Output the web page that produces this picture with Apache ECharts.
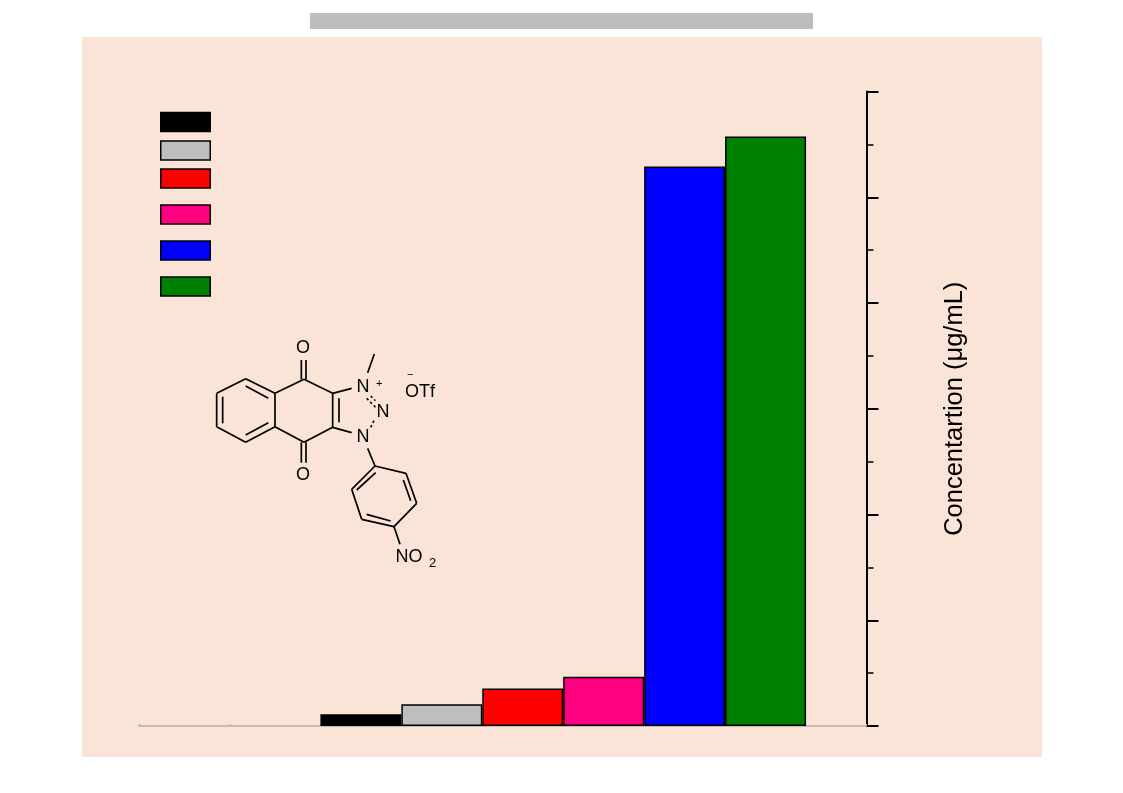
<!DOCTYPE html>
<html><head><meta charset="utf-8">
<style>html,body{margin:0;padding:0;background:#fff}#c{width:1123px;height:793px}</style>
<script src="https://cdn.jsdelivr.net/npm/echarts@6/dist/echarts.min.js"></script>
</head><body><div id="c"></div>
<script>
const barPositions = [2.44, 3.33, 4.22, 5.11, 6.0, 6.89];
const barValues = [1.1, 2.05, 3.55, 4.65, 52.9, 55.75];
const barColors = ['#000000', '#bebebe', '#ff0000', '#ff0080', '#0000ff', '#008000'];
const legendTops = [112.5, 141, 169, 205, 241, 277];
const yAxisName = 'Concentartion (\u03bcg/mL)';

// Structure drawing, coordinates in a 3x local space
const bonds = [
 [50,190,137,146],[137,146,225,190],[225,190,225,290],[225,290,137,337],[137,337,50,290],[50,290,50,190],
 [68,200,68,280],[137,168,205,205],[137,315,205,278],
 [225,190,312,148],[312,148,398,190],[398,190,398,292],[398,292,312,337],[312,337,225,290],[417,205,417,277],
 [304,90,304,148],[318,90,318,148],[304,337,304,398],[318,337,318,398],
 [398,190,455,175],[398,292,455,308],[503,128,523,72],[503,355,525,408],
 [525,408,618,430],[618,430,650,520],[650,520,582,590],[582,590,485,568],[485,568,455,478],[455,478,525,408],
 [610,450,632,512],[572,573,500,553],[470,480,527,428],[582,590,600,643]
];
const dashedBonds = [[500,205,527,232],[512,198,526,212],[522,272,512,292]];
const atoms = [['O',309,55],['O',309,435],['N',489,170],['N',549,245],['N',489,322],['+',538,163],['\u2212',631,135],['OTf',660,187],['NO',627,682]];
const smallAtoms = [['2',698,700]];

const P = (x, y) => [200 + x / 3, 330 + y / 3];
const graphics = [
 {type:'rect', z:-10, silent:true, shape:{x:82,y:37,width:960,height:720}, style:{fill:'#fae4d7'}},
 {type:'rect', silent:true, shape:{x:310,y:13,width:503,height:16}, style:{fill:'#bdbdbd'}}
];
legendTops.forEach((t, i) => graphics.push({type:'rect', z:5, shape:{x:160.75,y:t,width:49.5,height:19}, style:{fill:barColors[i], stroke:'#000', lineWidth:1.5}}));
bonds.forEach(b => { const a = P(b[0], b[1]), c = P(b[2], b[3]);
 graphics.push({type:'line', z:5, shape:{x1:a[0],y1:a[1],x2:c[0],y2:c[1]}, style:{stroke:'#000', lineWidth:1.7}}); });
dashedBonds.forEach(b => { const a = P(b[0], b[1]), c = P(b[2], b[3]);
 graphics.push({type:'line', z:5, shape:{x1:a[0],y1:a[1],x2:c[0],y2:c[1]}, style:{stroke:'#000', lineWidth:1.5, lineDash:[2.5,2.5]}}); });
atoms.forEach(t => { const p = P(t[1], t[2]); const sm = t[0] === '+' || t[0] === '\u2212';
 graphics.push({type:'text', z:6, x:p[0], y:p[1], style:{text:t[0], fill:'#000', font:(sm?'11px':'18px')+' "Liberation Sans"', align:'center', verticalAlign:'middle'}}); });
smallAtoms.forEach(t => { const p = P(t[1], t[2]);
 graphics.push({type:'text', z:6, x:p[0], y:p[1], style:{text:t[0], fill:'#000', font:'13px "Liberation Sans"', align:'center', verticalAlign:'middle'}}); });

const chart = echarts.init(document.getElementById('c'), null, {renderer:'canvas', width:1123, height:793});
chart.setOption({
 animation:false,
 backgroundColor:'#ffffff',
 graphic:graphics,
 grid:{left:139, right:256.5, top:91.5, bottom:67, containLabel:false},
 xAxis:{type:'value', min:0, max:8, interval:1,
  axisLine:{show:true, onZero:false, lineStyle:{color:'#b8aca4', width:1.5}},
  axisTick:{show:true, inside:true, length:2, lineStyle:{color:'#b8aca4', width:1}},
  axisLabel:{show:false}, splitLine:{show:false}},
 yAxis:{type:'value', position:'right', min:0, max:60, interval:10,
  name:yAxisName, nameLocation:'middle', nameRotate:90, nameGap:75,
  nameTextStyle:{fontFamily:'Liberation Sans', fontSize:25.5, color:'#000'},
  axisLine:{show:true, onZero:false, lineStyle:{color:'#000', width:2}},
  axisTick:{show:true, length:12, lineStyle:{color:'#000', width:2}},
  minorTick:{show:true, splitNumber:2, length:7, lineStyle:{color:'#000', width:1.5}},
  axisLabel:{show:false}, splitLine:{show:false}, minorSplitLine:{show:false}},
 series:[{type:'bar', barWidth:81, z:3,
  data:barPositions.map((x, i) => ({value:[x, barValues[i]], itemStyle:{color:barColors[i], borderColor:'#000', borderWidth:1.5}}))}]
});
</script></body></html>
